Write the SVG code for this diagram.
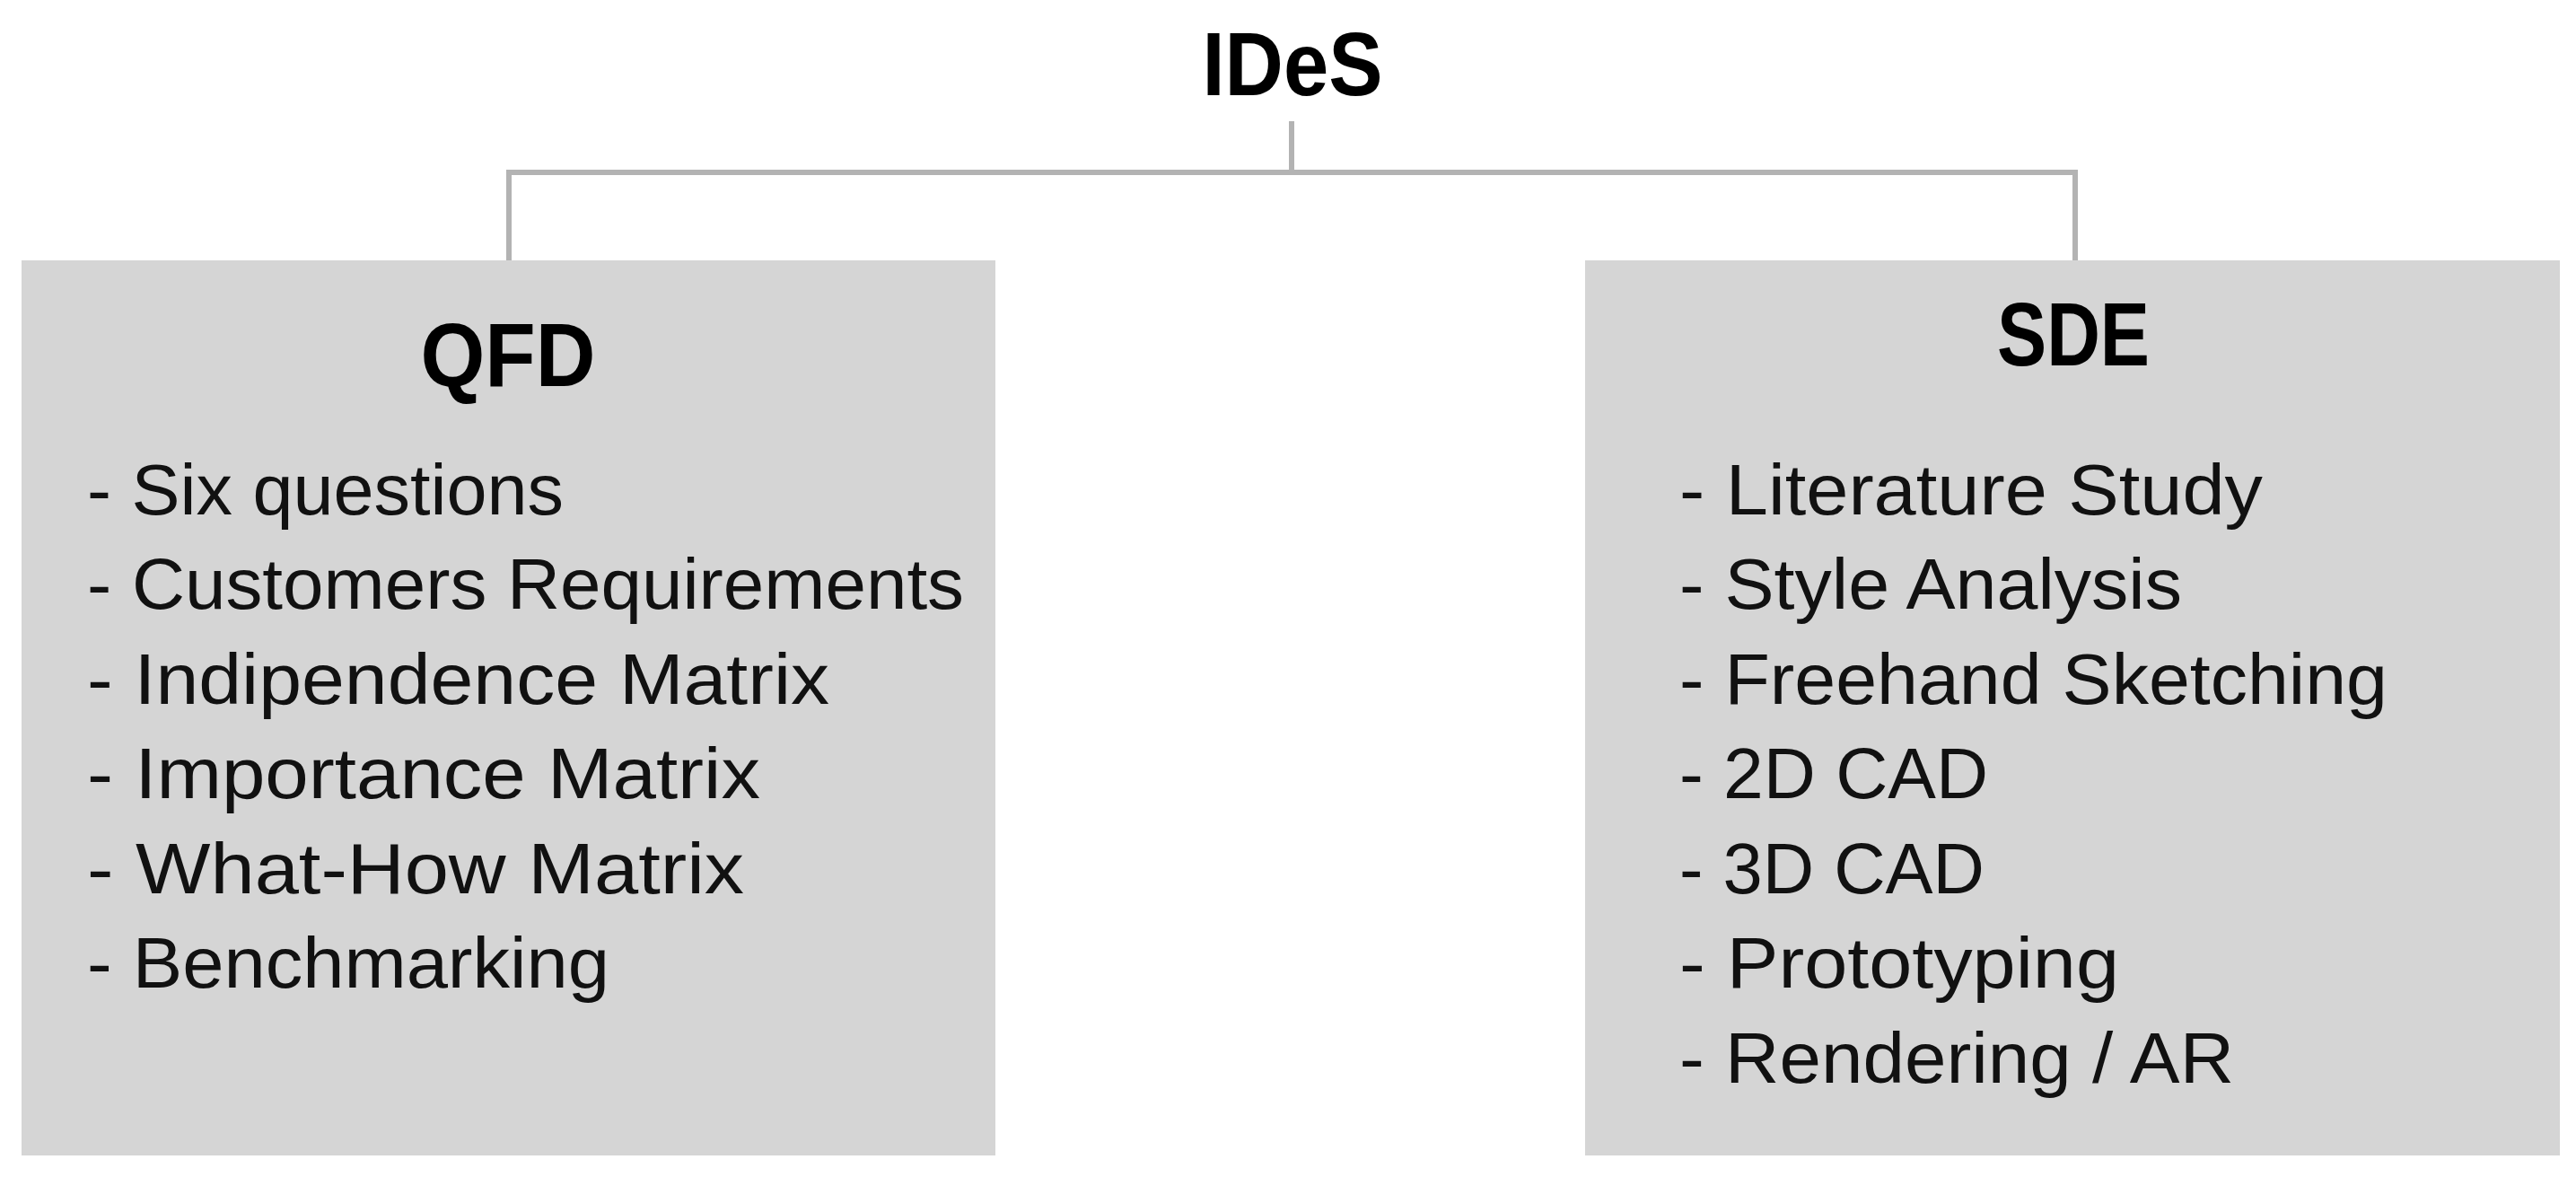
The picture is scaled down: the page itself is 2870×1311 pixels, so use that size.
<svg xmlns="http://www.w3.org/2000/svg" width="2870" height="1311" viewBox="0 0 2870 1311">
<style>
.box{fill:#d5d5d5}
.conn{fill:none;stroke:#b3b3b3;stroke-width:6}
.title{font-family:"Liberation Sans",Arial,sans-serif;font-weight:bold;font-size:100px;fill:#000;text-anchor:middle}
.item{font-family:"Liberation Sans",Arial,sans-serif;font-size:80px;fill:#111}
</style>
<rect width="2870" height="1311" fill="#fff"/>
<g id="connectors">
<path class="conn" d="M1439 135 V192 M567 192 H2312 M567 189 V291 M2312 189 V291"/>
</g>
<g id="ides">
<text class="title" x="1440" y="106" textLength="201" lengthAdjust="spacingAndGlyphs">IDeS</text>
</g>
<g id="qfd">
<rect class="box" x="24" y="290" width="1085" height="997"/>
<text class="title" x="566" y="430" textLength="195" lengthAdjust="spacingAndGlyphs">QFD</text>
<text class="item" x="97" y="573" textLength="531" lengthAdjust="spacingAndGlyphs">- Six questions</text>
<text class="item" x="97" y="678" textLength="977" lengthAdjust="spacingAndGlyphs">- Customers Requirements</text>
<text class="item" x="97" y="784" textLength="827" lengthAdjust="spacingAndGlyphs">- Indipendence Matrix</text>
<text class="item" x="97" y="889" textLength="750" lengthAdjust="spacingAndGlyphs">- Importance Matrix</text>
<text class="item" x="97" y="995" textLength="732" lengthAdjust="spacingAndGlyphs">- What-How Matrix</text>
<text class="item" x="97" y="1100" textLength="582" lengthAdjust="spacingAndGlyphs">- Benchmarking</text>
</g>
<g id="sde">
<rect class="box" x="1766" y="290" width="1086" height="997"/>
<text class="title" x="2310" y="407" textLength="170" lengthAdjust="spacingAndGlyphs">SDE</text>
<text class="item" x="1871" y="573" textLength="650" lengthAdjust="spacingAndGlyphs">- Literature Study</text>
<text class="item" x="1871" y="678" textLength="560" lengthAdjust="spacingAndGlyphs">- Style Analysis</text>
<text class="item" x="1871" y="784" textLength="789" lengthAdjust="spacingAndGlyphs">- Freehand Sketching</text>
<text class="item" x="1871" y="889" textLength="344" lengthAdjust="spacingAndGlyphs">- 2D CAD</text>
<text class="item" x="1871" y="995" textLength="340" lengthAdjust="spacingAndGlyphs">- 3D CAD</text>
<text class="item" x="1871" y="1100" textLength="490" lengthAdjust="spacingAndGlyphs">- Prototyping</text>
<text class="item" x="1871" y="1206" textLength="618" lengthAdjust="spacingAndGlyphs">- Rendering / AR</text>
</g>
</svg>
